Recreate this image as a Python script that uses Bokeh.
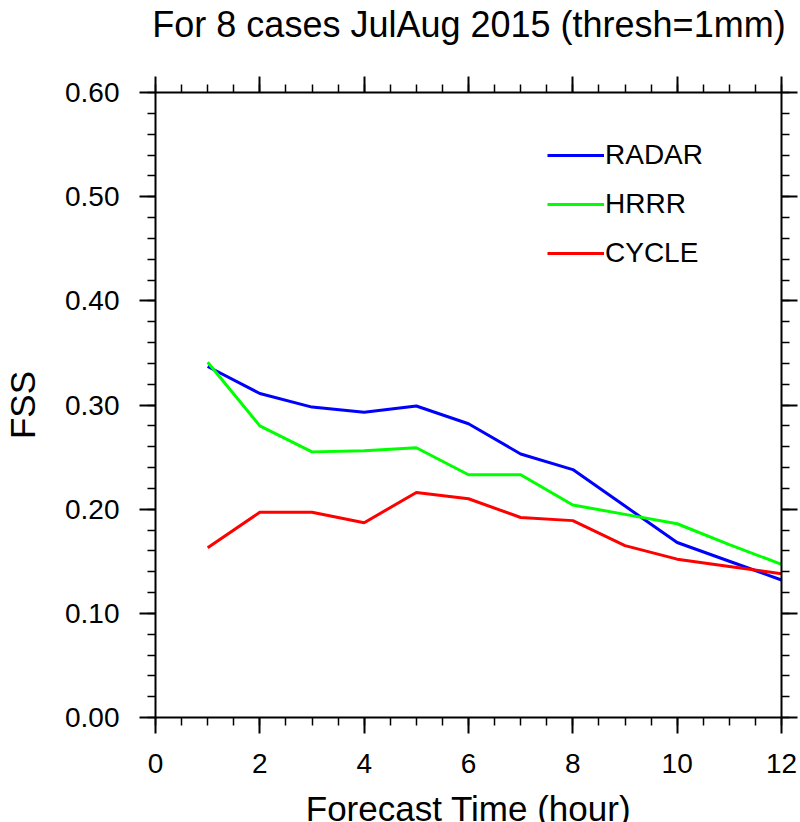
from bokeh.plotting import figure
from bokeh.models import LinearAxis, FixedTicker, Legend, LegendItem, Range1d, Div
from bokeh.layouts import column
from bokeh.embed import file_html
from bokeh.resources import INLINE

hours = [1, 2, 3, 4, 5, 6, 7, 8, 9, 10, 11, 12]
radar = [0.337, 0.311, 0.298, 0.293, 0.299, 0.282, 0.253, 0.238, 0.203, 0.168, 0.150, 0.132]
hrrr = [0.341, 0.280, 0.255, 0.256, 0.259, 0.233, 0.233, 0.204, 0.195, 0.186, 0.166, 0.147]
cycle = [0.163, 0.197, 0.197, 0.187, 0.216, 0.210, 0.192, 0.189, 0.165, 0.152, 0.145, 0.138]
series_names = ["RADAR", "HRRR", "CYCLE"]
series_colors = ["#0000ff", "#00ff00", "#ff0000"]
x_ticks = [0, 2, 4, 6, 8, 10, 12]
y_ticks = [0.0, 0.1, 0.2, 0.3, 0.4, 0.5, 0.6]
title_text = "For 8 cases JulAug 2015 (thresh=1mm)"

FONT = "Liberation Sans"

p = figure(width=800, height=783, output_backend="svg", toolbar_location=None,
           x_range=Range1d(0, 12), y_range=Range1d(0, 0.6),
           x_axis_location=None, y_axis_location=None,
           min_border_left=155, min_border_right=19, min_border_top=43, min_border_bottom=115)
p.title.text = ""
p.grid.visible = False
p.outline_line_color = None
p.background_fill_color = "white"
p.border_fill_color = "white"

x_minor = [v / 2 for v in range(0, 25)]
y_minor = [v / 50 for v in range(0, 31)]


def make_axis(ticks, minor, labels, fmt=None):
    ax = LinearAxis(ticker=FixedTicker(ticks=ticks, minor_ticks=minor))
    ax.axis_line_width = 2
    ax.axis_line_color = "black"
    ax.major_tick_line_width = 2
    ax.major_tick_line_color = "black"
    ax.minor_tick_line_width = 1.5
    ax.minor_tick_line_color = "black"
    ax.major_tick_out = 16
    ax.major_tick_in = 0
    ax.minor_tick_out = 8
    ax.minor_tick_in = 0
    ax.major_label_text_font = FONT
    ax.major_label_text_font_size = "28px"
    ax.major_label_text_color = "black"
    ax.axis_label_text_font = FONT
    ax.axis_label_text_font_style = "normal"
    ax.axis_label_text_font_size = "35px"
    ax.axis_label_text_color = "black"
    if not labels:
        ax.major_label_text_font_size = "0px"
        ax.major_label_text_alpha = 0
        ax.major_label_standoff = 0
    if fmt is not None:
        ax.major_label_overrides = fmt
    return ax


yfmt = {v: "%.2f" % v for v in y_ticks}
xfmt = {v: str(v) for v in x_ticks}

left = make_axis(y_ticks, y_minor, True, yfmt)
left.axis_label = "FSS"
left.major_label_standoff = 20
left.axis_label_standoff = 20
p.add_layout(left, "left")

right = make_axis(y_ticks, y_minor, False)
p.add_layout(right, "right")

bottom = make_axis(x_ticks, x_minor, True, xfmt)
bottom.axis_label = "Forecast Time (hour)"
bottom.major_label_standoff = 20
bottom.axis_label_standoff = 13
p.add_layout(bottom, "below")

top = make_axis(x_ticks, x_minor, False)
p.add_layout(top, "above")

renderers = []
for vals, col in zip([radar, hrrr, cycle], series_colors):
    r = p.line(hours, vals, line_color=col, line_width=3)
    renderers.append(r)

legend = Legend(items=[LegendItem(label=n, renderers=[r]) for n, r in zip(series_names, renderers)],
                location=(392, 448), orientation="vertical",
                glyph_width=57, glyph_height=32, label_height=32, label_standoff=1,
                spacing=17, padding=0, margin=0,
                label_text_font=FONT, label_text_font_size="28px", label_text_color="black",
                border_line_color=None, background_fill_alpha=0)
p.add_layout(legend, "center")

title_div = Div(text=title_text, width=800, height=39,
                styles={"font-family": "'Liberation Sans'", "font-size": "36px",
                        "line-height": "39px", "text-align": "center", "color": "black",
                        "padding-left": "128px", "box-sizing": "border-box",
                        "white-space": "nowrap", "background-color": "white"})

layout = column(title_div, p, spacing=0)

open("out.html", "w").write(file_html(layout, INLINE))
